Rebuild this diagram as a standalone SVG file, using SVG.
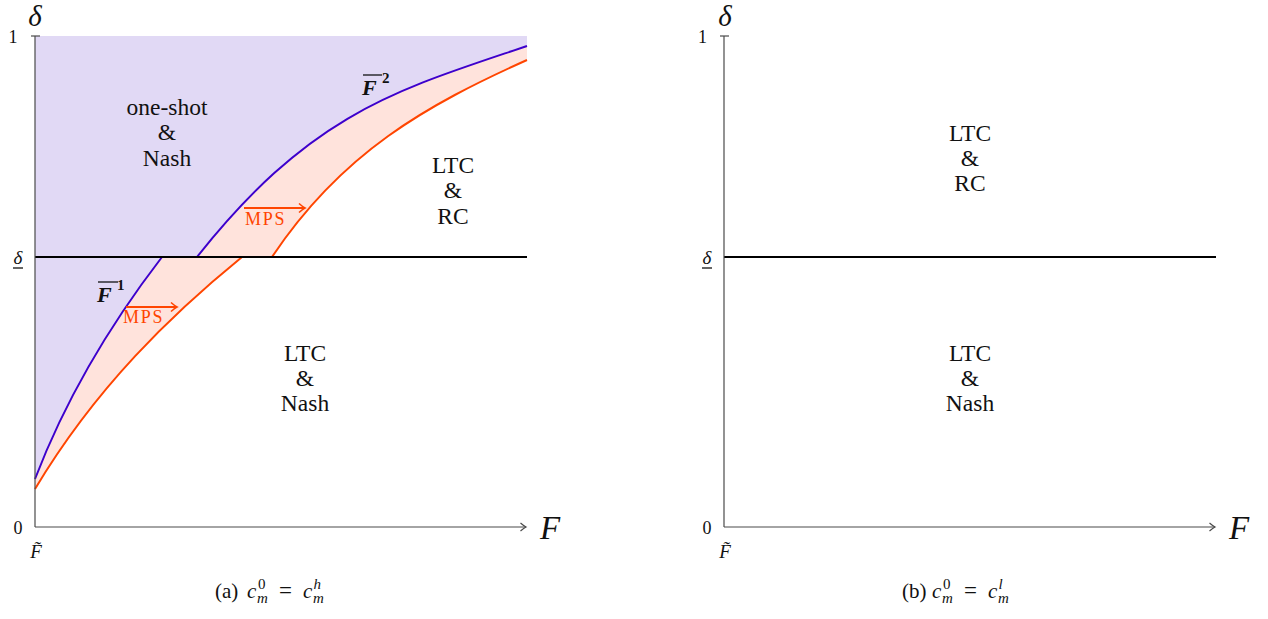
<svg xmlns="http://www.w3.org/2000/svg" width="1268" height="619" viewBox="0 0 1268 619" font-family="Liberation Serif, serif">
<defs>
<style>
.ax{stroke:#4a4a4a;stroke-width:1.2;fill:none}
.dl{stroke:#000;stroke-width:2;fill:none}
.bl{stroke:#3d00cc;stroke-width:2;fill:none}
.rd{stroke:#ff4500;stroke-width:2;fill:none}
.purp{fill:#e1d9f5;stroke:none}
.pink{fill:#ffe3dc;stroke:none}
text{fill:#111}
.lab{font-size:23.5px;text-anchor:middle}
.mps{font-size:18px;fill:#ff4500;letter-spacing:1.8px}
.big{font-size:29px;font-style:italic;text-anchor:middle}
.tick{font-size:18px;text-anchor:middle}
.fb{font-size:22px;font-style:italic;font-weight:bold}
.sup{font-size:15px;font-weight:bold}
.cap{font-size:21px}
.it{font-style:italic}
.sm{font-size:15px}
.ol{stroke:#111;stroke-width:1.3}
</style>
<marker id="ahAx" markerUnits="userSpaceOnUse" markerWidth="12" markerHeight="12" viewBox="-8 -6 10 12" refX="0" refY="0" orient="auto">
<path d="M-5.5,-4 Q-2,-1 0,0 Q-2,1 -5.5,4" fill="none" stroke="#4a4a4a" stroke-width="1.2"/>
</marker>
<marker id="ahR" markerUnits="userSpaceOnUse" markerWidth="12" markerHeight="12" viewBox="-8 -6 10 12" refX="0" refY="0" orient="auto">
<path d="M-6,-4.5 Q-2,-1 0,0 Q-2,1 -6,4.5" fill="none" stroke="#ff4500" stroke-width="1.6"/>
</marker>
</defs>
<rect width="1268" height="619" fill="#fff"/>

<g id="panel-a">
  <g id="regions-a">
    <path class="purp" d="M35,36 H527 V46 C397,90 312,112 197,257 H162 C122,309 71,385 35,479 Z"/>
    <path class="pink" d="M197,257 C312,112 397,90 527,46 V60 C427,105 342,152 272,257 Z"/>
    <path class="pink" d="M35,479 C71,385 122,309 162,257 H242 C172,314 96,387 35,489 Z"/>
  </g>
  <g id="curves-a">
    <path id="F1" class="bl" d="M35,479 C71,385 122,309 162,257"/>
    <path id="F2" class="bl" d="M197,257 C312,112 397,90 527,46"/>
    <path id="R1" class="rd" d="M35,489 C96,387 172,314 242,257"/>
    <path id="R2" class="rd" d="M272,257 C342,152 427,105 527,60"/>
  </g>
  <g id="delta-line-a">
    <path class="dl" d="M35,257 H527"/>
  </g>
  <g id="axes-a">
    <path class="ax" d="M35,527 V36"/>
    <path class="ax" d="M31,36 H40"/>
    <path class="ax" d="M35,527 H526" marker-end="url(#ahAx)"/>
    <text class="big" x="35" y="26">δ</text>
    <text class="big" x="550" y="539" style="font-size:33px">F</text>
    <text class="tick" x="13" y="43">1</text>
    <text class="tick" x="18" y="534">0</text>
    <text class="it" x="36" y="558" style="font-size:19px;text-anchor:middle">F̃</text>
    <text class="it" x="18" y="264" style="font-size:19px;text-anchor:middle">δ</text>
    <path class="ol" d="M13,268 H23"/>
  </g>
  <g id="labels-a">
    <g id="one-shot-nash">
      <text class="lab" x="167" y="115">one-shot</text>
      <text class="lab" x="167" y="140">&amp;</text>
      <text class="lab" x="167" y="166">Nash</text>
    </g>
    <g id="ltc-rc-a">
      <text class="lab" x="453" y="173">LTC</text>
      <text class="lab" x="453" y="198">&amp;</text>
      <text class="lab" x="453" y="224">RC</text>
    </g>
    <g id="ltc-nash-a">
      <text class="lab" x="305" y="361">LTC</text>
      <text class="lab" x="305" y="386">&amp;</text>
      <text class="lab" x="305" y="411">Nash</text>
    </g>
    <g id="F1-label">
      <text class="fb" x="97" y="302">F</text>
      <path class="ol" d="M98,282 H118"/>
      <text class="sup" x="117" y="290">1</text>
    </g>
    <g id="F2-label">
      <text class="fb" x="362" y="95">F</text>
      <path class="ol" d="M363,75 H382"/>
      <text class="sup" x="382" y="83">2</text>
    </g>
  </g>
  <g id="connectors-a">
    <path class="rd" d="M126,307 H177" marker-end="url(#ahR)"/>
    <path class="rd" d="M244,208 H305" marker-end="url(#ahR)"/>
  </g>
  <g id="mps-labels">
    <text class="mps" x="123" y="323">MPS</text>
    <text class="mps" x="245" y="225">MPS</text>
  </g>
  <g id="caption-a" class="cap">
    <text x="215" y="598">(a)</text>
    <text class="it" x="247" y="598">c</text>
    <text class="sm" x="258" y="589">0</text>
    <text class="it sm" x="257" y="603">m</text>
    <text x="279" y="598" style="font-size:23px">=</text>
    <text class="it" x="303" y="598">c</text>
    <text class="it sm" x="313.5" y="589">h</text>
    <text class="it sm" x="313" y="603">m</text>
  </g>
</g>

<g id="panel-b">
  <g id="delta-line-b">
    <path class="dl" d="M724,257 H1216"/>
  </g>
  <g id="axes-b">
    <path class="ax" d="M724,527 V36"/>
    <path class="ax" d="M720,36 H729"/>
    <path class="ax" d="M724,527 H1215" marker-end="url(#ahAx)"/>
    <text class="big" x="725" y="26">δ</text>
    <text class="big" x="1239" y="539" style="font-size:33px">F</text>
    <text class="tick" x="702.5" y="43">1</text>
    <text class="tick" x="707" y="534">0</text>
    <text class="it" x="725" y="558" style="font-size:19px;text-anchor:middle">F̃</text>
    <text class="it" x="707" y="264" style="font-size:19px;text-anchor:middle">δ</text>
    <path class="ol" d="M702,268 H712"/>
  </g>
  <g id="labels-b">
    <g id="ltc-rc-b">
      <text class="lab" x="970" y="141">LTC</text>
      <text class="lab" x="970" y="166">&amp;</text>
      <text class="lab" x="970" y="191">RC</text>
    </g>
    <g id="ltc-nash-b">
      <text class="lab" x="970" y="361">LTC</text>
      <text class="lab" x="970" y="386">&amp;</text>
      <text class="lab" x="970" y="411">Nash</text>
    </g>
  </g>
  <g id="caption-b" class="cap">
    <text x="902" y="598">(b)</text>
    <text class="it" x="932" y="598">c</text>
    <text class="sm" x="943" y="589">0</text>
    <text class="it sm" x="942" y="603">m</text>
    <text x="964" y="598" style="font-size:23px">=</text>
    <text class="it" x="988" y="598">c</text>
    <text class="it sm" x="998.5" y="589">l</text>
    <text class="it sm" x="998" y="603">m</text>
  </g>
</g>
</svg>
